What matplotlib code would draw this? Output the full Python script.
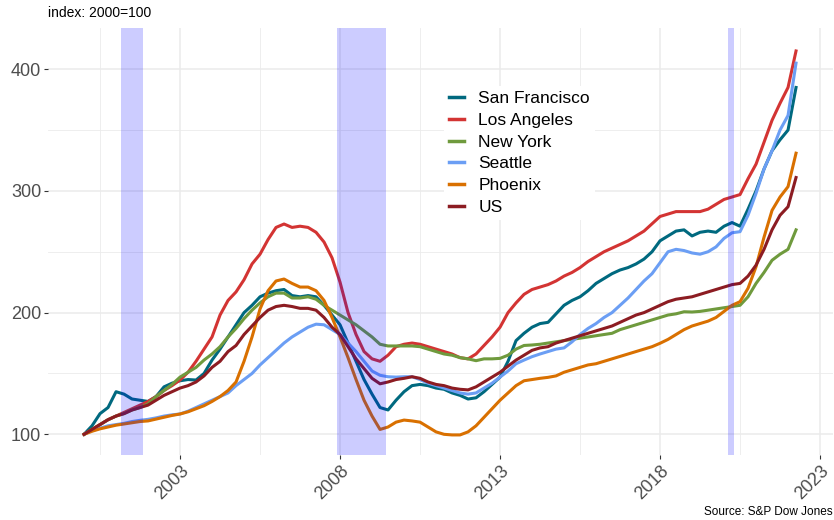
import numpy as np
import matplotlib
matplotlib.use("Agg")
import matplotlib.pyplot as plt

plt.rcParams['font.family'] = ['Liberation Sans', 'DejaVu Sans']

# quarterly index values, 2000 Q1 .. 2022 Q2 (2000=100)
years = 2000 + np.arange(90) * 0.25

san_francisco = [
    100, 107, 117, 122, 135, 133, 129, 128, 127, 131, 139, 142,
    144, 145, 144.6, 150, 161, 170, 180, 190, 200, 206, 213, 216,
    218, 219, 214, 213, 214, 213, 206, 198, 190, 175, 160, 145,
    133, 122, 120, 128, 135, 140, 141, 140, 138, 137, 134, 132,
    129, 130, 135, 141, 147, 160, 177, 183, 188, 191, 192, 199,
    206, 210, 213, 218, 224, 228, 232, 235, 237, 240, 244, 250,
    259, 263, 267, 268, 263, 266, 267, 266, 271, 274, 271, 285,
    300, 318, 333, 342, 350, 385,
]
los_angeles = [
    100, 104, 108, 112, 115, 118, 121, 124, 127, 131, 136, 140,
    144.6, 151, 160, 170, 180, 198, 210, 217, 227, 240, 248, 260,
    270, 272.8, 270, 271, 270, 266, 258, 245, 225, 200, 182, 168,
    162, 160, 165, 172, 174, 175, 174, 172, 170, 168, 166, 163,
    162, 166, 173, 180, 188, 200, 208, 215, 219, 221, 223, 226,
    230, 233, 237, 242, 246, 250, 253, 256, 259, 263, 267, 273,
    279, 281, 283, 283, 283, 283, 285, 289, 293, 295, 297, 310,
    322, 340, 358, 372, 385, 415,
]
new_york = [
    100, 104, 108, 112, 115, 117, 120, 122, 125, 131, 136, 141,
    147, 151, 155, 161, 166, 172, 180, 187, 195, 202, 208, 213,
    216, 216, 212, 212, 213, 211, 206, 202, 198, 194, 190, 185,
    180, 174, 172.6, 172.6, 172.6, 172.6, 172, 170, 168, 166, 165, 163,
    162, 160.5, 162, 162, 162.4, 165, 170, 173, 173.4, 174, 175, 176,
    177, 178, 179, 180, 181, 182, 183, 186, 188, 190, 192, 194,
    196, 198, 199, 200.7, 200.5, 201, 202, 203, 204, 205, 206, 213,
    224, 233, 243, 248, 252, 268,
]
seattle = [
    100, 103, 105, 107, 108, 109, 110.5, 111.5, 112.3, 113.5, 115, 116,
    116.7, 119, 122, 125, 128, 131, 134, 140, 145, 150, 157, 163,
    169, 175, 180, 184, 188, 190.5, 190, 186, 182, 175, 168, 160,
    152, 148.5, 147.3, 147, 147.3, 147.3, 145, 142, 140, 138, 136, 134,
    133, 134, 138, 142, 147, 152, 158, 161, 163.8, 166, 168, 170,
    171, 176, 182, 187, 191, 196, 200, 206, 212, 219, 226, 232,
    241, 250, 252, 251, 249, 248, 250, 254, 261, 265.6, 266.5, 280,
    298, 318, 333, 350, 362, 405,
]
phoenix = [
    100, 102.5, 104.5, 106, 107.5, 108.5, 109.5, 110.5, 111, 112.5, 114, 115.5,
    116.7, 118.5, 121, 123.5, 127, 131, 136, 143, 160, 180, 203, 218,
    226, 227.6, 224, 221, 221, 218, 210, 196, 180, 163, 145, 128,
    115, 104, 106, 110, 111.7, 111, 110, 106, 102, 100, 99.5, 99.5,
    102, 107, 114, 121, 128, 134, 140, 144, 145, 146, 146.8, 148,
    151, 153, 155, 157, 158, 160, 162, 164, 166, 168, 170, 172,
    174.8, 178, 182, 186, 189, 191, 193, 196, 201, 206, 209, 220,
    237.7, 262, 284, 295, 303.5, 331,
]
us = [
    100, 104, 108, 112, 115, 117, 120, 122, 124, 128, 132, 135,
    138, 140, 143, 148, 155, 160, 168, 173, 182, 189, 196, 202,
    205, 206, 205, 203.5, 203.5, 202, 196, 188, 182, 172, 162, 154,
    146, 141.5, 143, 145, 146, 147.3, 146, 143, 141, 140, 138, 137,
    136.5, 139, 143, 147, 151, 156, 161, 165, 169, 171, 172, 175,
    177, 179, 181, 183, 185, 187, 189, 192, 195, 198, 200, 203,
    206, 209, 211, 212, 213, 215, 217, 219, 221, 223, 224, 230,
    239, 252, 268, 280, 287, 311,
]

series_names = ["San Francisco", "Los Angeles", "New York", "Seattle", "Phoenix", "US"]
series_values = [san_francisco, los_angeles, new_york, seattle, phoenix, us]
series_colors = ["#00697F", "#D33433", "#6F9A3D", "#6B9EF4", "#D97000", "#8C1C22"]

# NBER recessions
recession_start = [2001.17, 2007.92, 2020.12]
recession_end = [2001.84, 2009.44, 2020.30]

fig = plt.figure(figsize=(8.34, 5.2), dpi=100)
ax = fig.add_axes([0.0576, 0.125, 0.941, 0.821])

for name, vals, col in zip(series_names, series_values, series_colors):
    ax.plot(years, vals, color=col, lw=2.2, label=name, zorder=2)

# shading goes over the lines, like the original
for s, e in zip(recession_start, recession_end):
    ax.axvspan(s, e, color=(0, 0, 1), alpha=0.2, lw=0, zorder=3)

ax.set_xlim(1998.875, 2023.4)
ax.set_ylim(83, 433.8)
ax.set_xticks([2003, 2008, 2013, 2018, 2023])
ax.set_xticks([2000.5, 2005.5, 2010.5, 2015.5, 2020.5], minor=True)
ax.set_yticks([100, 200, 300, 400])
ax.set_yticks([150, 250, 350], minor=True)

ax.grid(which='major', color='#EBEBEB', lw=1.1, zorder=0)
ax.grid(which='minor', color='#EBEBEB', lw=0.6, zorder=0)
ax.set_axisbelow(True)
for sp in ax.spines.values():
    sp.set_visible(False)

ax.tick_params(axis='both', which='major', length=3, width=0.8, color='#333333',
               labelcolor='#4D4D4D', labelsize=13, pad=2)
ax.tick_params(axis='both', which='minor', length=0)
plt.setp(ax.get_xticklabels(), rotation=45, ha='right', rotation_mode='anchor')

leg = ax.legend(loc='upper left', bbox_to_anchor=(0.493, 0.885), frameon=True,
                fontsize=12.5, handlelength=0.9, handletextpad=0.8,
                labelspacing=0.38, borderpad=0.3)
leg.get_frame().set_facecolor('white')
leg.get_frame().set_edgecolor('none')
leg.get_frame().set_alpha(1)
for line in leg.get_lines():
    line.set_linewidth(2.5)

fig.text(0.0576, 0.975, "index: 2000=100", fontsize=10, ha='left', va='center',
         color='black')
fig.text(0.998, 0.015, "Source: S&P Dow Jones", fontsize=8.5, ha='right',
         va='center', color='black')

fig.savefig("out.png", dpi=100)
